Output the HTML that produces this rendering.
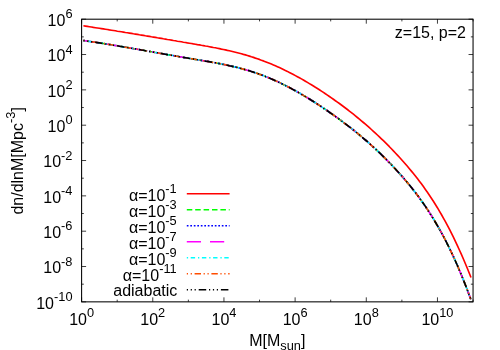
<!DOCTYPE html><html><head><meta charset="utf-8"><style>html,body{margin:0;padding:0;background:#fff}svg{display:block}text{font-family:"Liberation Sans",sans-serif;fill:#000}</style></head><body>
<svg width="500" height="350" viewBox="0 0 500 350">
<rect width="500" height="350" fill="#fff"/>
<g style="will-change:opacity">
<path d="M81.60,301.85 v-4.50 M81.60,19.20 v4.50 M117.19,301.85 v-2.20 M117.19,19.20 v2.20 M152.77,301.85 v-4.50 M152.77,19.20 v4.50 M188.36,301.85 v-2.20 M188.36,19.20 v2.20 M223.95,301.85 v-4.50 M223.95,19.20 v4.50 M259.53,301.85 v-2.20 M259.53,19.20 v2.20 M295.12,301.85 v-4.50 M295.12,19.20 v4.50 M330.70,301.85 v-2.20 M330.70,19.20 v2.20 M366.29,301.85 v-4.50 M366.29,19.20 v4.50 M401.88,301.85 v-2.20 M401.88,19.20 v2.20 M437.46,301.85 v-4.50 M437.46,19.20 v4.50 M473.05,301.85 v-2.20 M473.05,19.20 v2.20 M81.60,19.20 h4.50 M473.05,19.20 h-4.50 M81.60,36.87 h2.20 M473.05,36.87 h-2.20 M81.60,54.53 h4.50 M473.05,54.53 h-4.50 M81.60,72.20 h2.20 M473.05,72.20 h-2.20 M81.60,89.86 h4.50 M473.05,89.86 h-4.50 M81.60,107.53 h2.20 M473.05,107.53 h-2.20 M81.60,125.19 h4.50 M473.05,125.19 h-4.50 M81.60,142.86 h2.20 M473.05,142.86 h-2.20 M81.60,160.53 h4.50 M473.05,160.53 h-4.50 M81.60,178.19 h2.20 M473.05,178.19 h-2.20 M81.60,195.86 h4.50 M473.05,195.86 h-4.50 M81.60,213.52 h2.20 M473.05,213.52 h-2.20 M81.60,231.19 h4.50 M473.05,231.19 h-4.50 M81.60,248.85 h2.20 M473.05,248.85 h-2.20 M81.60,266.52 h4.50 M473.05,266.52 h-4.50 M81.60,284.18 h2.20 M473.05,284.18 h-2.20 M81.60,301.85 h4.50 M473.05,301.85 h-4.50" stroke="#000" stroke-width="0.9" fill="none" opacity="0.85"/>
<rect x="81.60" y="19.20" width="391.45" height="282.65" fill="none" stroke="#000" stroke-width="1.05"/>
<text x="72.5" y="26.10" text-anchor="end" font-size="16">10<tspan dy="-7.9" font-size="12.8">6</tspan></text>
<text x="72.5" y="61.43" text-anchor="end" font-size="16">10<tspan dy="-7.9" font-size="12.8">4</tspan></text>
<text x="72.5" y="96.76" text-anchor="end" font-size="16">10<tspan dy="-7.9" font-size="12.8">2</tspan></text>
<text x="72.5" y="132.09" text-anchor="end" font-size="16">10<tspan dy="-7.9" font-size="12.8">0</tspan></text>
<text x="72.5" y="167.43" text-anchor="end" font-size="16">10<tspan dy="-7.9" font-size="12.8">-2</tspan></text>
<text x="72.5" y="202.76" text-anchor="end" font-size="16">10<tspan dy="-7.9" font-size="12.8">-4</tspan></text>
<text x="72.5" y="238.09" text-anchor="end" font-size="16">10<tspan dy="-7.9" font-size="12.8">-6</tspan></text>
<text x="72.5" y="273.42" text-anchor="end" font-size="16">10<tspan dy="-7.9" font-size="12.8">-8</tspan></text>
<text x="72.5" y="308.75" text-anchor="end" font-size="16">10<tspan dy="-7.9" font-size="12.8">-10</tspan></text>
<text x="81.60" y="324.8" text-anchor="middle" font-size="16">10<tspan dy="-7.5" font-size="12.8">0</tspan></text>
<text x="152.77" y="324.8" text-anchor="middle" font-size="16">10<tspan dy="-7.5" font-size="12.8">2</tspan></text>
<text x="223.95" y="324.8" text-anchor="middle" font-size="16">10<tspan dy="-7.5" font-size="12.8">4</tspan></text>
<text x="295.12" y="324.8" text-anchor="middle" font-size="16">10<tspan dy="-7.5" font-size="12.8">6</tspan></text>
<text x="366.29" y="324.8" text-anchor="middle" font-size="16">10<tspan dy="-7.5" font-size="12.8">8</tspan></text>
<text x="437.46" y="324.8" text-anchor="middle" font-size="16">10<tspan dy="-7.5" font-size="12.8">10</tspan></text>
<text x="249.2" y="345.6" font-size="16">M[M<tspan dy="4.8" font-size="12.8">sun</tspan><tspan dy="-4.8" font-size="16">]</tspan></text>
<text transform="translate(23.3,214.6) rotate(-90)" font-size="16">dn/dlnM[Mpc<tspan dy="-8" font-size="12.8">-3</tspan><tspan dy="8" font-size="16">]</tspan></text>
<text x="466" y="37.6" text-anchor="end" font-size="16">z=15, p=2</text>
<path d="M186.8,193.70 H229.6" stroke="#ff0000" stroke-width="1.65" fill="none"/>
<text x="176.7" y="200.70" text-anchor="end" font-size="16">α=10<tspan dy="-7.5" font-size="12.8">-1</tspan></text>
<path d="M186.8,209.70 H229.6" stroke="#00ff00" stroke-width="1.65" stroke-dasharray="5.5 2.9" fill="none"/>
<text x="176.7" y="216.70" text-anchor="end" font-size="16">α=10<tspan dy="-7.5" font-size="12.8">-3</tspan></text>
<path d="M186.8,225.70 H229.6" stroke="#0000ff" stroke-width="1.65" stroke-dasharray="1.7 1.8" fill="none"/>
<text x="176.7" y="232.70" text-anchor="end" font-size="16">α=10<tspan dy="-7.5" font-size="12.8">-5</tspan></text>
<path d="M186.8,241.70 H229.6" stroke="#ff00ff" stroke-width="1.65" stroke-dasharray="14.2 9" fill="none"/>
<text x="176.7" y="248.70" text-anchor="end" font-size="16">α=10<tspan dy="-7.5" font-size="12.8">-7</tspan></text>
<path d="M186.8,257.70 H229.6" stroke="#00ffff" stroke-width="1.65" stroke-dasharray="1.3 2.6 4.4 2.9" fill="none"/>
<text x="176.7" y="264.70" text-anchor="end" font-size="16">α=10<tspan dy="-7.5" font-size="12.8">-9</tspan></text>
<path d="M186.8,273.70 H229.6" stroke="#ff4d00" stroke-width="1.65" stroke-dasharray="1.2 2.7 1.2 2.7 6.4 2.6" fill="none"/>
<text x="176.7" y="280.70" text-anchor="end" font-size="16">α=10<tspan dy="-7.5" font-size="12.8">-11</tspan></text>
<path d="M186.8,289.70 H229.6" stroke="#000000" stroke-width="1.65" stroke-dasharray="1.2 2.7 1.2 2.7 1.2 2.9 7.5 2.8" fill="none"/>
<text x="177.3" y="295.70" text-anchor="end" font-size="16">adiabatic</text>
<path d="M83.4,25.8 L85.4,26.1 L87.4,26.4 L89.4,26.7 L91.4,27.0 L93.4,27.4 L95.4,27.7 L97.4,28.0 L99.4,28.3 L101.4,28.6 L103.4,28.9 L105.4,29.2 L107.4,29.5 L109.4,29.9 L111.4,30.2 L113.4,30.5 L115.4,30.8 L117.4,31.2 L119.4,31.5 L121.4,31.8 L123.4,32.1 L125.4,32.5 L127.4,32.8 L129.4,33.1 L131.4,33.4 L133.4,33.8 L135.4,34.1 L137.4,34.4 L139.4,34.8 L141.4,35.1 L143.4,35.4 L145.4,35.8 L147.4,36.1 L149.4,36.4 L151.4,36.8 L153.4,37.1 L155.4,37.4 L157.4,37.8 L159.4,38.1 L161.4,38.4 L163.4,38.8 L165.4,39.1 L167.4,39.5 L169.4,39.8 L171.4,40.1 L173.4,40.5 L175.4,40.8 L177.4,41.2 L179.4,41.5 L181.4,41.8 L183.4,42.2 L185.4,42.5 L187.4,42.9 L189.4,43.2 L191.4,43.5 L193.4,43.9 L195.4,44.2 L197.4,44.6 L199.4,44.9 L201.4,45.3 L203.4,45.6 L205.4,46.0 L207.4,46.3 L209.4,46.7 L211.4,47.1 L213.4,47.5 L215.4,47.8 L217.4,48.2 L219.4,48.6 L221.4,49.1 L223.4,49.5 L225.4,49.9 L227.4,50.4 L229.4,50.8 L231.4,51.3 L233.4,51.8 L235.4,52.3 L237.4,52.8 L239.4,53.3 L241.4,53.8 L243.4,54.4 L245.4,54.9 L247.4,55.5 L249.4,56.1 L251.4,56.8 L253.4,57.4 L255.4,58.1 L257.4,58.7 L259.4,59.4 L261.4,60.2 L263.4,60.9 L265.4,61.7 L267.4,62.5 L269.4,63.3 L271.4,64.1 L273.4,64.9 L275.4,65.8 L277.4,66.7 L279.4,67.6 L281.4,68.5 L283.4,69.5 L285.4,70.5 L287.4,71.4 L289.4,72.5 L291.4,73.5 L293.4,74.5 L295.4,75.6 L297.4,76.7 L299.4,77.8 L301.4,78.9 L303.4,80.0 L305.4,81.2 L307.4,82.4 L309.4,83.6 L311.4,84.8 L313.4,86.0 L315.4,87.3 L317.4,88.5 L319.4,89.8 L321.4,91.1 L323.4,92.4 L325.4,93.8 L327.4,95.1 L329.4,96.5 L331.4,97.9 L333.4,99.3 L335.4,100.7 L337.4,102.1 L339.4,103.5 L341.4,105.0 L343.4,106.5 L345.4,108.0 L347.4,109.5 L349.4,111.1 L351.4,112.6 L353.4,114.2 L355.4,115.8 L357.4,117.5 L359.4,119.1 L361.4,120.8 L363.4,122.5 L365.4,124.2 L367.4,125.9 L369.4,127.7 L371.4,129.5 L373.4,131.3 L375.4,133.1 L377.4,135.0 L379.4,136.9 L381.4,138.8 L383.4,140.7 L385.4,142.7 L387.4,144.7 L389.4,146.7 L391.4,148.8 L393.4,150.9 L395.4,153.0 L397.4,155.1 L399.4,157.3 L401.4,159.5 L403.4,161.7 L405.4,164.0 L407.4,166.3 L409.4,168.7 L411.4,171.1 L413.4,173.5 L415.4,176.0 L417.4,178.6 L419.4,181.2 L421.4,183.8 L423.4,186.6 L425.4,189.4 L427.4,192.2 L429.4,195.2 L431.4,198.2 L433.4,201.3 L435.4,204.5 L437.4,207.7 L439.4,211.1 L441.4,214.5 L443.4,218.1 L445.4,221.7 L447.4,225.4 L449.4,229.2 L451.4,233.2 L453.4,237.2 L455.4,241.3 L457.4,245.6 L459.4,250.0 L461.4,254.4 L463.4,259.0 L465.4,263.7 L467.4,268.5 L469.4,273.5 L471.0,277.5" stroke="#ff0000" stroke-width="1.65" fill="none" stroke-linejoin="round"/>
<path d="M83.4,40.5 L85.4,40.8 L87.4,41.1 L89.4,41.4 L91.4,41.7 L93.4,42.0 L95.4,42.3 L97.4,42.6 L99.4,42.9 L101.4,43.2 L103.4,43.5 L105.4,43.9 L107.4,44.2 L109.4,44.5 L111.4,44.8 L113.4,45.2 L115.4,45.5 L117.4,45.8 L119.4,46.2 L121.4,46.5 L123.4,46.9 L125.4,47.2 L127.4,47.5 L129.4,47.9 L131.4,48.2 L133.4,48.6 L135.4,48.9 L137.4,49.3 L139.4,49.6 L141.4,50.0 L143.4,50.3 L145.4,50.7 L147.4,51.0 L149.4,51.4 L151.4,51.7 L153.4,52.1 L155.4,52.5 L157.4,52.8 L159.4,53.2 L161.4,53.5 L163.4,53.9 L165.4,54.2 L167.4,54.6 L169.4,54.9 L171.4,55.3 L173.4,55.6 L175.4,56.0 L177.4,56.3 L179.4,56.7 L181.4,57.0 L183.4,57.4 L185.4,57.7 L187.4,58.0 L189.4,58.4 L191.4,58.7 L193.4,59.0 L195.4,59.4 L197.4,59.7 L199.4,60.0 L201.4,60.4 L203.4,60.7 L205.4,61.1 L207.4,61.4 L209.4,61.7 L211.4,62.1 L213.4,62.5 L215.4,62.8 L217.4,63.2 L219.4,63.6 L221.4,64.0 L223.4,64.4 L225.4,64.8 L227.4,65.2 L229.4,65.7 L231.4,66.1 L233.4,66.6 L235.4,67.0 L237.4,67.5 L239.4,68.0 L241.4,68.6 L243.4,69.1 L245.4,69.7 L247.4,70.2 L249.4,70.8 L251.4,71.5 L253.4,72.1 L255.4,72.8 L257.4,73.4 L259.4,74.2 L261.4,74.9 L263.4,75.6 L265.4,76.4 L267.4,77.2 L269.4,78.1 L271.4,78.9 L273.4,79.8 L275.4,80.7 L277.4,81.6 L279.4,82.5 L281.4,83.5 L283.4,84.5 L285.4,85.5 L287.4,86.5 L289.4,87.5 L291.4,88.6 L293.4,89.7 L295.4,90.8 L297.4,91.9 L299.4,93.0 L301.4,94.2 L303.4,95.4 L305.4,96.6 L307.4,97.8 L309.4,99.0 L311.4,100.3 L313.4,101.5 L315.4,102.8 L317.4,104.1 L319.4,105.4 L321.4,106.7 L323.4,108.1 L325.4,109.4 L327.4,110.8 L329.4,112.2 L331.4,113.6 L333.4,115.0 L335.4,116.4 L337.4,117.8 L339.4,119.3 L341.4,120.8 L343.4,122.3 L345.4,123.8 L347.4,125.3 L349.4,126.9 L351.4,128.4 L353.4,130.0 L355.4,131.6 L357.4,133.2 L359.4,134.9 L361.4,136.6 L363.4,138.3 L365.4,140.0 L367.4,141.7 L369.4,143.5 L371.4,145.3 L373.4,147.1 L375.4,148.9 L377.4,150.8 L379.4,152.7 L381.4,154.7 L383.4,156.6 L385.4,158.6 L387.4,160.6 L389.4,162.7 L391.4,164.7 L393.4,166.9 L395.4,169.0 L397.4,171.2 L399.4,173.4 L401.4,175.6 L403.4,177.9 L405.4,180.3 L407.4,182.6 L409.4,185.0 L411.4,187.5 L413.4,190.0 L415.4,192.6 L417.4,195.2 L419.4,197.9 L421.4,200.7 L423.4,203.5 L425.4,206.4 L427.4,209.4 L429.4,212.5 L431.4,215.6 L433.4,218.9 L435.4,222.2 L437.4,225.6 L439.4,229.1 L441.4,232.7 L443.4,236.4 L445.4,240.2 L447.4,244.1 L449.4,248.2 L451.4,252.3 L453.4,256.6 L455.4,261.0 L457.4,265.5 L459.4,270.2 L461.4,275.0 L463.4,279.9 L465.4,285.0 L467.4,290.2 L469.4,295.5 L470.8,299.3" stroke="#00ff00" stroke-width="1.65" stroke-dasharray="5.5 2.9" fill="none" stroke-linejoin="round"/>
<path d="M83.4,40.5 L85.4,40.8 L87.4,41.1 L89.4,41.4 L91.4,41.7 L93.4,42.0 L95.4,42.3 L97.4,42.6 L99.4,42.9 L101.4,43.2 L103.4,43.5 L105.4,43.9 L107.4,44.2 L109.4,44.5 L111.4,44.8 L113.4,45.2 L115.4,45.5 L117.4,45.8 L119.4,46.2 L121.4,46.5 L123.4,46.9 L125.4,47.2 L127.4,47.5 L129.4,47.9 L131.4,48.2 L133.4,48.6 L135.4,48.9 L137.4,49.3 L139.4,49.6 L141.4,50.0 L143.4,50.3 L145.4,50.7 L147.4,51.0 L149.4,51.4 L151.4,51.7 L153.4,52.1 L155.4,52.5 L157.4,52.8 L159.4,53.2 L161.4,53.5 L163.4,53.9 L165.4,54.2 L167.4,54.6 L169.4,54.9 L171.4,55.3 L173.4,55.6 L175.4,56.0 L177.4,56.3 L179.4,56.7 L181.4,57.0 L183.4,57.4 L185.4,57.7 L187.4,58.0 L189.4,58.4 L191.4,58.7 L193.4,59.0 L195.4,59.4 L197.4,59.7 L199.4,60.0 L201.4,60.4 L203.4,60.7 L205.4,61.1 L207.4,61.4 L209.4,61.7 L211.4,62.1 L213.4,62.5 L215.4,62.8 L217.4,63.2 L219.4,63.6 L221.4,64.0 L223.4,64.4 L225.4,64.8 L227.4,65.2 L229.4,65.7 L231.4,66.1 L233.4,66.6 L235.4,67.0 L237.4,67.5 L239.4,68.0 L241.4,68.6 L243.4,69.1 L245.4,69.7 L247.4,70.2 L249.4,70.8 L251.4,71.5 L253.4,72.1 L255.4,72.8 L257.4,73.4 L259.4,74.2 L261.4,74.9 L263.4,75.6 L265.4,76.4 L267.4,77.2 L269.4,78.1 L271.4,78.9 L273.4,79.8 L275.4,80.7 L277.4,81.6 L279.4,82.5 L281.4,83.5 L283.4,84.5 L285.4,85.5 L287.4,86.5 L289.4,87.5 L291.4,88.6 L293.4,89.7 L295.4,90.8 L297.4,91.9 L299.4,93.0 L301.4,94.2 L303.4,95.4 L305.4,96.6 L307.4,97.8 L309.4,99.0 L311.4,100.3 L313.4,101.5 L315.4,102.8 L317.4,104.1 L319.4,105.4 L321.4,106.7 L323.4,108.1 L325.4,109.4 L327.4,110.8 L329.4,112.2 L331.4,113.6 L333.4,115.0 L335.4,116.4 L337.4,117.8 L339.4,119.3 L341.4,120.8 L343.4,122.3 L345.4,123.8 L347.4,125.3 L349.4,126.9 L351.4,128.4 L353.4,130.0 L355.4,131.6 L357.4,133.2 L359.4,134.9 L361.4,136.6 L363.4,138.3 L365.4,140.0 L367.4,141.7 L369.4,143.5 L371.4,145.3 L373.4,147.1 L375.4,148.9 L377.4,150.8 L379.4,152.7 L381.4,154.7 L383.4,156.6 L385.4,158.6 L387.4,160.6 L389.4,162.7 L391.4,164.7 L393.4,166.9 L395.4,169.0 L397.4,171.2 L399.4,173.4 L401.4,175.6 L403.4,177.9 L405.4,180.3 L407.4,182.6 L409.4,185.0 L411.4,187.5 L413.4,190.0 L415.4,192.6 L417.4,195.2 L419.4,197.9 L421.4,200.7 L423.4,203.5 L425.4,206.4 L427.4,209.4 L429.4,212.5 L431.4,215.6 L433.4,218.9 L435.4,222.2 L437.4,225.6 L439.4,229.1 L441.4,232.7 L443.4,236.4 L445.4,240.2 L447.4,244.1 L449.4,248.2 L451.4,252.3 L453.4,256.6 L455.4,261.0 L457.4,265.5 L459.4,270.2 L461.4,275.0 L463.4,279.9 L465.4,285.0 L467.4,290.2 L469.4,295.5 L470.8,299.3" stroke="#0000ff" stroke-width="1.65" stroke-dasharray="1.7 1.8" fill="none" stroke-linejoin="round"/>
<path d="M83.4,40.5 L85.4,40.8 L87.4,41.1 L89.4,41.4 L91.4,41.7 L93.4,42.0 L95.4,42.3 L97.4,42.6 L99.4,42.9 L101.4,43.2 L103.4,43.5 L105.4,43.9 L107.4,44.2 L109.4,44.5 L111.4,44.8 L113.4,45.2 L115.4,45.5 L117.4,45.8 L119.4,46.2 L121.4,46.5 L123.4,46.9 L125.4,47.2 L127.4,47.5 L129.4,47.9 L131.4,48.2 L133.4,48.6 L135.4,48.9 L137.4,49.3 L139.4,49.6 L141.4,50.0 L143.4,50.3 L145.4,50.7 L147.4,51.0 L149.4,51.4 L151.4,51.7 L153.4,52.1 L155.4,52.5 L157.4,52.8 L159.4,53.2 L161.4,53.5 L163.4,53.9 L165.4,54.2 L167.4,54.6 L169.4,54.9 L171.4,55.3 L173.4,55.6 L175.4,56.0 L177.4,56.3 L179.4,56.7 L181.4,57.0 L183.4,57.4 L185.4,57.7 L187.4,58.0 L189.4,58.4 L191.4,58.7 L193.4,59.0 L195.4,59.4 L197.4,59.7 L199.4,60.0 L201.4,60.4 L203.4,60.7 L205.4,61.1 L207.4,61.4 L209.4,61.7 L211.4,62.1 L213.4,62.5 L215.4,62.8 L217.4,63.2 L219.4,63.6 L221.4,64.0 L223.4,64.4 L225.4,64.8 L227.4,65.2 L229.4,65.7 L231.4,66.1 L233.4,66.6 L235.4,67.0 L237.4,67.5 L239.4,68.0 L241.4,68.6 L243.4,69.1 L245.4,69.7 L247.4,70.2 L249.4,70.8 L251.4,71.5 L253.4,72.1 L255.4,72.8 L257.4,73.4 L259.4,74.2 L261.4,74.9 L263.4,75.6 L265.4,76.4 L267.4,77.2 L269.4,78.1 L271.4,78.9 L273.4,79.8 L275.4,80.7 L277.4,81.6 L279.4,82.5 L281.4,83.5 L283.4,84.5 L285.4,85.5 L287.4,86.5 L289.4,87.5 L291.4,88.6 L293.4,89.7 L295.4,90.8 L297.4,91.9 L299.4,93.0 L301.4,94.2 L303.4,95.4 L305.4,96.6 L307.4,97.8 L309.4,99.0 L311.4,100.3 L313.4,101.5 L315.4,102.8 L317.4,104.1 L319.4,105.4 L321.4,106.7 L323.4,108.1 L325.4,109.4 L327.4,110.8 L329.4,112.2 L331.4,113.6 L333.4,115.0 L335.4,116.4 L337.4,117.8 L339.4,119.3 L341.4,120.8 L343.4,122.3 L345.4,123.8 L347.4,125.3 L349.4,126.9 L351.4,128.4 L353.4,130.0 L355.4,131.6 L357.4,133.2 L359.4,134.9 L361.4,136.6 L363.4,138.3 L365.4,140.0 L367.4,141.7 L369.4,143.5 L371.4,145.3 L373.4,147.1 L375.4,148.9 L377.4,150.8 L379.4,152.7 L381.4,154.7 L383.4,156.6 L385.4,158.6 L387.4,160.6 L389.4,162.7 L391.4,164.7 L393.4,166.9 L395.4,169.0 L397.4,171.2 L399.4,173.4 L401.4,175.6 L403.4,177.9 L405.4,180.3 L407.4,182.6 L409.4,185.0 L411.4,187.5 L413.4,190.0 L415.4,192.6 L417.4,195.2 L419.4,197.9 L421.4,200.7 L423.4,203.5 L425.4,206.4 L427.4,209.4 L429.4,212.5 L431.4,215.6 L433.4,218.9 L435.4,222.2 L437.4,225.6 L439.4,229.1 L441.4,232.7 L443.4,236.4 L445.4,240.2 L447.4,244.1 L449.4,248.2 L451.4,252.3 L453.4,256.6 L455.4,261.0 L457.4,265.5 L459.4,270.2 L461.4,275.0 L463.4,279.9 L465.4,285.0 L467.4,290.2 L469.4,295.5 L470.8,299.3" stroke="#ff00ff" stroke-width="1.65" stroke-dasharray="14.2 9" fill="none" stroke-linejoin="round"/>
<path d="M83.4,40.5 L85.4,40.8 L87.4,41.1 L89.4,41.4 L91.4,41.7 L93.4,42.0 L95.4,42.3 L97.4,42.6 L99.4,42.9 L101.4,43.2 L103.4,43.5 L105.4,43.9 L107.4,44.2 L109.4,44.5 L111.4,44.8 L113.4,45.2 L115.4,45.5 L117.4,45.8 L119.4,46.2 L121.4,46.5 L123.4,46.9 L125.4,47.2 L127.4,47.5 L129.4,47.9 L131.4,48.2 L133.4,48.6 L135.4,48.9 L137.4,49.3 L139.4,49.6 L141.4,50.0 L143.4,50.3 L145.4,50.7 L147.4,51.0 L149.4,51.4 L151.4,51.7 L153.4,52.1 L155.4,52.5 L157.4,52.8 L159.4,53.2 L161.4,53.5 L163.4,53.9 L165.4,54.2 L167.4,54.6 L169.4,54.9 L171.4,55.3 L173.4,55.6 L175.4,56.0 L177.4,56.3 L179.4,56.7 L181.4,57.0 L183.4,57.4 L185.4,57.7 L187.4,58.0 L189.4,58.4 L191.4,58.7 L193.4,59.0 L195.4,59.4 L197.4,59.7 L199.4,60.0 L201.4,60.4 L203.4,60.7 L205.4,61.1 L207.4,61.4 L209.4,61.7 L211.4,62.1 L213.4,62.5 L215.4,62.8 L217.4,63.2 L219.4,63.6 L221.4,64.0 L223.4,64.4 L225.4,64.8 L227.4,65.2 L229.4,65.7 L231.4,66.1 L233.4,66.6 L235.4,67.0 L237.4,67.5 L239.4,68.0 L241.4,68.6 L243.4,69.1 L245.4,69.7 L247.4,70.2 L249.4,70.8 L251.4,71.5 L253.4,72.1 L255.4,72.8 L257.4,73.4 L259.4,74.2 L261.4,74.9 L263.4,75.6 L265.4,76.4 L267.4,77.2 L269.4,78.1 L271.4,78.9 L273.4,79.8 L275.4,80.7 L277.4,81.6 L279.4,82.5 L281.4,83.5 L283.4,84.5 L285.4,85.5 L287.4,86.5 L289.4,87.5 L291.4,88.6 L293.4,89.7 L295.4,90.8 L297.4,91.9 L299.4,93.0 L301.4,94.2 L303.4,95.4 L305.4,96.6 L307.4,97.8 L309.4,99.0 L311.4,100.3 L313.4,101.5 L315.4,102.8 L317.4,104.1 L319.4,105.4 L321.4,106.7 L323.4,108.1 L325.4,109.4 L327.4,110.8 L329.4,112.2 L331.4,113.6 L333.4,115.0 L335.4,116.4 L337.4,117.8 L339.4,119.3 L341.4,120.8 L343.4,122.3 L345.4,123.8 L347.4,125.3 L349.4,126.9 L351.4,128.4 L353.4,130.0 L355.4,131.6 L357.4,133.2 L359.4,134.9 L361.4,136.6 L363.4,138.3 L365.4,140.0 L367.4,141.7 L369.4,143.5 L371.4,145.3 L373.4,147.1 L375.4,148.9 L377.4,150.8 L379.4,152.7 L381.4,154.7 L383.4,156.6 L385.4,158.6 L387.4,160.6 L389.4,162.7 L391.4,164.7 L393.4,166.9 L395.4,169.0 L397.4,171.2 L399.4,173.4 L401.4,175.6 L403.4,177.9 L405.4,180.3 L407.4,182.6 L409.4,185.0 L411.4,187.5 L413.4,190.0 L415.4,192.6 L417.4,195.2 L419.4,197.9 L421.4,200.7 L423.4,203.5 L425.4,206.4 L427.4,209.4 L429.4,212.5 L431.4,215.6 L433.4,218.9 L435.4,222.2 L437.4,225.6 L439.4,229.1 L441.4,232.7 L443.4,236.4 L445.4,240.2 L447.4,244.1 L449.4,248.2 L451.4,252.3 L453.4,256.6 L455.4,261.0 L457.4,265.5 L459.4,270.2 L461.4,275.0 L463.4,279.9 L465.4,285.0 L467.4,290.2 L469.4,295.5 L470.8,299.3" stroke="#00ffff" stroke-width="1.65" stroke-dasharray="1.3 2.6 4.4 2.9" fill="none" stroke-linejoin="round"/>
<path d="M83.4,40.5 L85.4,40.8 L87.4,41.1 L89.4,41.4 L91.4,41.7 L93.4,42.0 L95.4,42.3 L97.4,42.6 L99.4,42.9 L101.4,43.2 L103.4,43.5 L105.4,43.9 L107.4,44.2 L109.4,44.5 L111.4,44.8 L113.4,45.2 L115.4,45.5 L117.4,45.8 L119.4,46.2 L121.4,46.5 L123.4,46.9 L125.4,47.2 L127.4,47.5 L129.4,47.9 L131.4,48.2 L133.4,48.6 L135.4,48.9 L137.4,49.3 L139.4,49.6 L141.4,50.0 L143.4,50.3 L145.4,50.7 L147.4,51.0 L149.4,51.4 L151.4,51.7 L153.4,52.1 L155.4,52.5 L157.4,52.8 L159.4,53.2 L161.4,53.5 L163.4,53.9 L165.4,54.2 L167.4,54.6 L169.4,54.9 L171.4,55.3 L173.4,55.6 L175.4,56.0 L177.4,56.3 L179.4,56.7 L181.4,57.0 L183.4,57.4 L185.4,57.7 L187.4,58.0 L189.4,58.4 L191.4,58.7 L193.4,59.0 L195.4,59.4 L197.4,59.7 L199.4,60.0 L201.4,60.4 L203.4,60.7 L205.4,61.1 L207.4,61.4 L209.4,61.7 L211.4,62.1 L213.4,62.5 L215.4,62.8 L217.4,63.2 L219.4,63.6 L221.4,64.0 L223.4,64.4 L225.4,64.8 L227.4,65.2 L229.4,65.7 L231.4,66.1 L233.4,66.6 L235.4,67.0 L237.4,67.5 L239.4,68.0 L241.4,68.6 L243.4,69.1 L245.4,69.7 L247.4,70.2 L249.4,70.8 L251.4,71.5 L253.4,72.1 L255.4,72.8 L257.4,73.4 L259.4,74.2 L261.4,74.9 L263.4,75.6 L265.4,76.4 L267.4,77.2 L269.4,78.1 L271.4,78.9 L273.4,79.8 L275.4,80.7 L277.4,81.6 L279.4,82.5 L281.4,83.5 L283.4,84.5 L285.4,85.5 L287.4,86.5 L289.4,87.5 L291.4,88.6 L293.4,89.7 L295.4,90.8 L297.4,91.9 L299.4,93.0 L301.4,94.2 L303.4,95.4 L305.4,96.6 L307.4,97.8 L309.4,99.0 L311.4,100.3 L313.4,101.5 L315.4,102.8 L317.4,104.1 L319.4,105.4 L321.4,106.7 L323.4,108.1 L325.4,109.4 L327.4,110.8 L329.4,112.2 L331.4,113.6 L333.4,115.0 L335.4,116.4 L337.4,117.8 L339.4,119.3 L341.4,120.8 L343.4,122.3 L345.4,123.8 L347.4,125.3 L349.4,126.9 L351.4,128.4 L353.4,130.0 L355.4,131.6 L357.4,133.2 L359.4,134.9 L361.4,136.6 L363.4,138.3 L365.4,140.0 L367.4,141.7 L369.4,143.5 L371.4,145.3 L373.4,147.1 L375.4,148.9 L377.4,150.8 L379.4,152.7 L381.4,154.7 L383.4,156.6 L385.4,158.6 L387.4,160.6 L389.4,162.7 L391.4,164.7 L393.4,166.9 L395.4,169.0 L397.4,171.2 L399.4,173.4 L401.4,175.6 L403.4,177.9 L405.4,180.3 L407.4,182.6 L409.4,185.0 L411.4,187.5 L413.4,190.0 L415.4,192.6 L417.4,195.2 L419.4,197.9 L421.4,200.7 L423.4,203.5 L425.4,206.4 L427.4,209.4 L429.4,212.5 L431.4,215.6 L433.4,218.9 L435.4,222.2 L437.4,225.6 L439.4,229.1 L441.4,232.7 L443.4,236.4 L445.4,240.2 L447.4,244.1 L449.4,248.2 L451.4,252.3 L453.4,256.6 L455.4,261.0 L457.4,265.5 L459.4,270.2 L461.4,275.0 L463.4,279.9 L465.4,285.0 L467.4,290.2 L469.4,295.5 L470.8,299.3" stroke="#ff4d00" stroke-width="1.65" stroke-dasharray="1.2 2.7 1.2 2.7 6.4 2.6" fill="none" stroke-linejoin="round"/>
<path d="M83.4,40.5 L85.4,40.8 L87.4,41.1 L89.4,41.4 L91.4,41.7 L93.4,42.0 L95.4,42.3 L97.4,42.6 L99.4,42.9 L101.4,43.2 L103.4,43.5 L105.4,43.9 L107.4,44.2 L109.4,44.5 L111.4,44.8 L113.4,45.2 L115.4,45.5 L117.4,45.8 L119.4,46.2 L121.4,46.5 L123.4,46.9 L125.4,47.2 L127.4,47.5 L129.4,47.9 L131.4,48.2 L133.4,48.6 L135.4,48.9 L137.4,49.3 L139.4,49.6 L141.4,50.0 L143.4,50.3 L145.4,50.7 L147.4,51.0 L149.4,51.4 L151.4,51.7 L153.4,52.1 L155.4,52.5 L157.4,52.8 L159.4,53.2 L161.4,53.5 L163.4,53.9 L165.4,54.2 L167.4,54.6 L169.4,54.9 L171.4,55.3 L173.4,55.6 L175.4,56.0 L177.4,56.3 L179.4,56.7 L181.4,57.0 L183.4,57.4 L185.4,57.7 L187.4,58.0 L189.4,58.4 L191.4,58.7 L193.4,59.0 L195.4,59.4 L197.4,59.7 L199.4,60.0 L201.4,60.4 L203.4,60.7 L205.4,61.1 L207.4,61.4 L209.4,61.7 L211.4,62.1 L213.4,62.5 L215.4,62.8 L217.4,63.2 L219.4,63.6 L221.4,64.0 L223.4,64.4 L225.4,64.8 L227.4,65.2 L229.4,65.7 L231.4,66.1 L233.4,66.6 L235.4,67.0 L237.4,67.5 L239.4,68.0 L241.4,68.6 L243.4,69.1 L245.4,69.7 L247.4,70.2 L249.4,70.8 L251.4,71.5 L253.4,72.1 L255.4,72.8 L257.4,73.4 L259.4,74.2 L261.4,74.9 L263.4,75.6 L265.4,76.4 L267.4,77.2 L269.4,78.1 L271.4,78.9 L273.4,79.8 L275.4,80.7 L277.4,81.6 L279.4,82.5 L281.4,83.5 L283.4,84.5 L285.4,85.5 L287.4,86.5 L289.4,87.5 L291.4,88.6 L293.4,89.7 L295.4,90.8 L297.4,91.9 L299.4,93.0 L301.4,94.2 L303.4,95.4 L305.4,96.6 L307.4,97.8 L309.4,99.0 L311.4,100.3 L313.4,101.5 L315.4,102.8 L317.4,104.1 L319.4,105.4 L321.4,106.7 L323.4,108.1 L325.4,109.4 L327.4,110.8 L329.4,112.2 L331.4,113.6 L333.4,115.0 L335.4,116.4 L337.4,117.8 L339.4,119.3 L341.4,120.8 L343.4,122.3 L345.4,123.8 L347.4,125.3 L349.4,126.9 L351.4,128.4 L353.4,130.0 L355.4,131.6 L357.4,133.2 L359.4,134.9 L361.4,136.6 L363.4,138.3 L365.4,140.0 L367.4,141.7 L369.4,143.5 L371.4,145.3 L373.4,147.1 L375.4,148.9 L377.4,150.8 L379.4,152.7 L381.4,154.7 L383.4,156.6 L385.4,158.6 L387.4,160.6 L389.4,162.7 L391.4,164.7 L393.4,166.9 L395.4,169.0 L397.4,171.2 L399.4,173.4 L401.4,175.6 L403.4,177.9 L405.4,180.3 L407.4,182.6 L409.4,185.0 L411.4,187.5 L413.4,190.0 L415.4,192.6 L417.4,195.2 L419.4,197.9 L421.4,200.7 L423.4,203.5 L425.4,206.4 L427.4,209.4 L429.4,212.5 L431.4,215.6 L433.4,218.9 L435.4,222.2 L437.4,225.6 L439.4,229.1 L441.4,232.7 L443.4,236.4 L445.4,240.2 L447.4,244.1 L449.4,248.2 L451.4,252.3 L453.4,256.6 L455.4,261.0 L457.4,265.5 L459.4,270.2 L461.4,275.0 L463.4,279.9 L465.4,285.0 L467.4,290.2 L469.4,295.5 L470.8,299.3" stroke="#000000" stroke-width="1.65" stroke-dasharray="1.2 2.7 1.2 2.7 1.2 2.9 7.5 2.8" fill="none" stroke-linejoin="round"/>
</g></svg></body></html>
